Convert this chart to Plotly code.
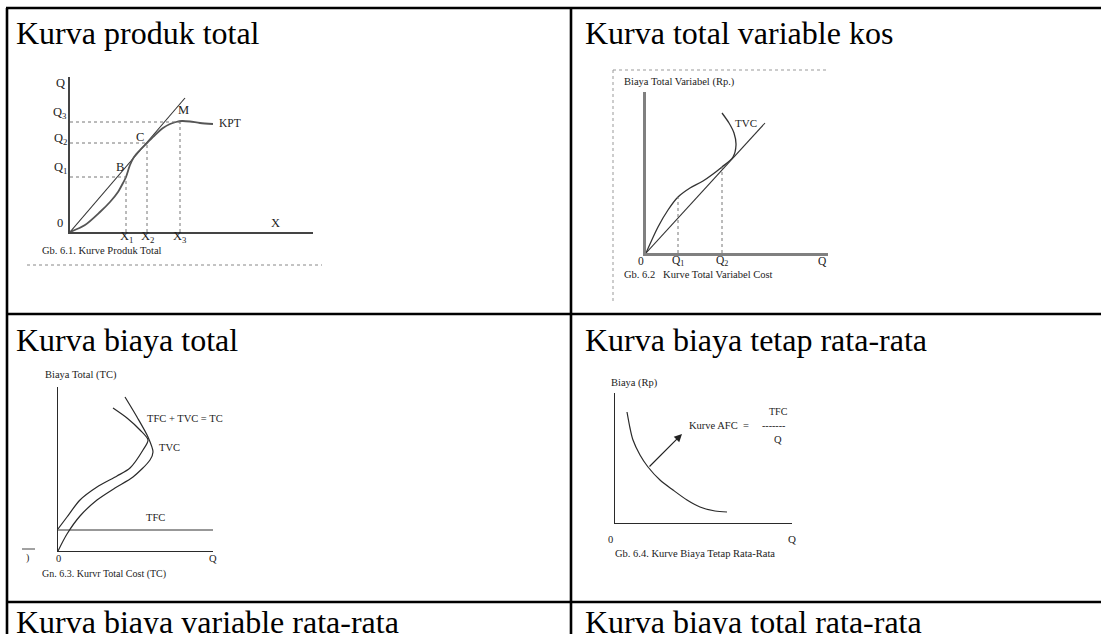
import plotly.graph_objects as go

W, H = 1101, 634
SERIF = "Liberation Serif"
INK = "#222222"

# ---------------- data ----------------
# Panel 1: total product curve (KPT) and the ray from the origin
kpt_x = [0, 15, 30, 40, 48, 53, 56, 60, 64, 70, 77, 85, 93, 100, 106, 112, 120, 130, 143]
kpt_y = [0, 7, 20, 30, 40, 49, 55, 67, 75, 82, 89, 97, 104, 108, 110, 111, 110.5, 109, 108]
ray1_x = [0, 115]
ray1_y = [0, 134]
p1_x_marks = [56, 77, 110]          # X1, X2, X3
p1_q_marks = [55, 89, 110]          # Q1, Q2, Q3
p1_x_labels = ["X<sub>1</sub>", "X<sub>2</sub>", "X<sub>3</sub>"]
p1_q_labels = ["Q<sub>1</sub>", "Q<sub>2</sub>", "Q<sub>3</sub>"]

# Panel 2: total variable cost curve (TVC) and the ray from the origin
tvc2_x = [0, 12, 22, 32, 44, 57, 76, 87, 90, 88, 83, 76]
tvc2_y = [0, 26, 43, 56, 65, 72, 86, 96, 108, 120, 130, 140]
ray2_x = [0, 119]
ray2_y = [0, 130]
p2_q_marks = [32, 76]               # Q1, Q2
p2_q_heights = [56, 86]
p2_q_labels = ["Q<sub>1</sub>", "Q<sub>2</sub>"]

# Panel 3: total cost = fixed + variable
tc3_x = [0, 9, 22, 39, 59, 72, 85, 90, 82, 69, 55]
tc3_y = [22, 34, 51, 64, 75, 83, 101, 111, 121, 133, 143]
tvc3_x = [0, 9, 22, 39, 57, 75, 92, 95, 90, 79, 67]
tvc3_y = [0, 17, 35, 51, 63, 74, 91, 99, 114, 134, 154]
tfc3_x = [0, 155]
tfc3_y = [21, 21]

# Panel 4: average fixed cost curve
afc_x = [12, 15, 18, 25, 33, 45, 58, 72, 85, 100, 112]
afc_y = [111, 95, 83, 68, 56, 43, 33, 23, 16, 12, 11]
afc_arrow_tail = (33, 55)
afc_arrow_head = (67, 89)

# table cell titles
titles = [
    "Kurva produk total", "Kurva total variable kos",
    "Kurva biaya total", "Kurva biaya tetap rata-rata",
    "Kurva biaya variable rata-rata", "Kurva biaya total rata-rata",
]


def px(x):
    return x / W


def py(y):
    return 1 - y / H


fig = go.Figure()

# axis boxes (left, right, bottom, top in page pixels) and data ranges
panels = {
    1: dict(box=(70, 313, 232, 77), color="#444444", lw=1.6),
    2: dict(box=(646, 828, 253, 92), color="#808080", lw=2.6),
    3: dict(box=(58, 213, 551, 387), color="#2a2a2a", lw=1.1),
    4: dict(box=(615, 792, 523, 393), color="#2a2a2a", lw=1.3),
}

layout_axes = {}
for i, p in panels.items():
    l, r, b, t = p["box"]
    common = dict(showgrid=False, zeroline=False, showticklabels=False, ticks="",
                  showline=True, linecolor=p["color"], linewidth=p["lw"], fixedrange=True)
    sx = "" if i == 1 else str(i)
    layout_axes["xaxis" + sx] = dict(domain=[px(l), px(r)], range=[0, r - l],
                                     anchor="y" + sx, **common)
    layout_axes["yaxis" + sx] = dict(domain=[py(b), py(t)], range=[0, b - t],
                                     anchor="x" + sx, **common)


def ax(i):
    return ("x", "y") if i == 1 else ("x%d" % i, "y%d" % i)


def line(i, xs, ys, color=INK, width=1.3, dash="solid", shape="spline"):
    xa, ya = ax(i)
    fig.add_trace(go.Scatter(x=xs, y=ys, xaxis=xa, yaxis=ya, mode="lines",
                             line=dict(color=color, width=width, dash=dash, shape=shape,
                                       smoothing=0.8),
                             hoverinfo="skip", showlegend=False))


annotations = []


def label(i, x, y, text, size=11, dx=0, dy=0, xanchor="center", color=INK):
    xa, ya = ax(i)
    annotations.append(dict(x=x, y=y, xref=xa, yref=ya, text=text, showarrow=False,
                            xshift=dx, yshift=dy, xanchor=xanchor, yanchor="middle",
                            font=dict(family=SERIF, size=size, color=color)))


def page_text(x, y, text, size=11, xanchor="left", color=INK):
    annotations.append(dict(x=px(x), y=py(y), xref="paper", yref="paper", text=text,
                            showarrow=False, xanchor=xanchor, yanchor="middle",
                            font=dict(family=SERIF, size=size, color=color)))


# ---- panel 1
line(1, ray1_x, ray1_y, color="#333333", width=1.1, shape="linear")
line(1, kpt_x, kpt_y, color="#555555", width=1.8)
for xm, qm in zip(p1_x_marks, p1_q_marks):
    line(1, [0, xm], [qm, qm], color="#777777", width=1, dash="dot", shape="linear")
    line(1, [xm, xm], [0, qm], color="#777777", width=1, dash="dot", shape="linear")
label(1, 0, 149, "Q", size=12.5, dx=-10)
for qm, txt, sh in zip(p1_q_marks, p1_q_labels, [9, 4, 9]):
    label(1, 0, qm, txt, size=12.5, dx=-10, dy=sh)
label(1, 0, 0, "0", size=12.5, dx=-10, dy=9)
label(1, 205, 0, "X", size=12.5, dy=9)
for xm, txt in zip(p1_x_marks, p1_x_labels):
    label(1, xm, 0, txt, size=12.5, dy=-5)
label(1, 50, 65, "B", size=12.5)
label(1, 70, 95, "C", size=12.5)
label(1, 113, 122, "M", size=12.5)
label(1, 160, 109, "KPT", size=11.5)
page_text(40, 250, "Gb. 6.1. Kurve Produk Total", size=10.5)

# ---- panel 2
line(2, ray2_x, ray2_y, color="#333333", width=1.1, shape="linear")
line(2, tvc2_x, tvc2_y, color="#333333", width=1.3)
for qm, qh in zip(p2_q_marks, p2_q_heights):
    line(2, [qm, qm], [0, qh], color="#777777", width=1, dash="dot", shape="linear")
label(2, 0, 0, "0", size=11.5, dx=-5, dy=-8)
for qm, txt in zip(p2_q_marks, p2_q_labels):
    label(2, qm, 0, txt, size=11.5, dy=-8)
label(2, 176, 0, "Q", size=11.5, dy=-8)
label(2, 100, 130, "TVC", size=11)
page_text(622, 82, "Biaya Total Variabel (Rp.)", size=10.5)
page_text(622, 274, "Gb. 6.2&#160;&#160; Kurve Total Variabel Cost", size=10.5)

# ---- panel 3
line(3, tfc3_x, tfc3_y, color="#333333", width=1.1, shape="linear")
line(3, tc3_x, tc3_y, color="#2a2a2a", width=1.2)
line(3, tvc3_x, tvc3_y, color="#2a2a2a", width=1.2)
label(3, 87, 133, "TFC + TVC = TC", size=10.5, xanchor="left")
label(3, 99, 104, "TVC", size=10.5, xanchor="left")
label(3, 97, 34, "TFC", size=10.5)
label(3, 0, 0, "0", size=10.5, dy=-7)
label(3, 155, 0, "Q", size=10.5, dy=-7)
page_text(81, 375, "Biaya Total (TC)", size=10.5, xanchor="center")
page_text(40, 574, "Gn. 6.3. Kurvr Total Cost (TC)", size=10)
page_text(24, 558, ")", size=10)

# ---- panel 4
line(4, afc_x, afc_y, color="#2a2a2a", width=1.2)
label(4, 72, 98, "Kurve AFC&#160; =", size=10.5, xanchor="left")
label(4, 163, 112, "TFC", size=10)
label(4, 158, 98, "-------", size=10)
label(4, 163, 84, "Q", size=10.5)
label(4, 0, 0, "0", size=10.5, dx=-5, dy=-16)
label(4, 177, 0, "Q", size=11, dy=-16)
page_text(634, 383, "Biaya (Rp)", size=10.5, xanchor="center")
page_text(613, 553, "Gb. 6.4. Kurve Biaya Tetap Rata-Rata", size=10.5)
annotations.append(dict(x=afc_arrow_head[0], y=afc_arrow_head[1], ax=afc_arrow_tail[0],
                        ay=afc_arrow_tail[1], xref="x4", yref="y4", axref="x4", ayref="y4",
                        showarrow=True, arrowhead=2, arrowsize=1.3, arrowwidth=1.2,
                        arrowcolor="#222222", text=""))

# ---- table titles
title_pos = [(14, 33), (583, 33), (14, 340), (583, 340), (14, 622), (583, 622)]
for (tx, ty), txt in zip(title_pos, titles):
    page_text(tx, ty, txt, size=32, color="#000000")

# ---- table rules and decorations
shapes = []


def hline(x0, x1, y, w=2.6, color="#000000", dash="solid"):
    shapes.append(dict(type="line", xref="paper", yref="paper", x0=px(x0), x1=px(x1),
                       y0=py(y), y1=py(y), line=dict(color=color, width=w, dash=dash)))


def vline(x, y0, y1, w=2.6, color="#000000", dash="solid"):
    shapes.append(dict(type="line", xref="paper", yref="paper", x0=px(x), x1=px(x),
                       y0=py(y0), y1=py(y1), line=dict(color=color, width=w, dash=dash)))


hline(6, W, 8)
hline(6, W, 314)
hline(6, W, 602)
vline(7, 8, H)
vline(571, 8, H)
# dotted frames inside the first row
hline(27, 322, 265, w=1, color="#888888", dash="dot")
hline(613, 828, 70, w=1, color="#999999", dash="dot")
vline(613, 70, 303, w=1, color="#999999", dash="dot")
# small stray mark at the left of the third panel
hline(22, 35, 549, w=1, color="#444444")

fig.update_layout(width=W, height=H, margin=dict(l=0, r=0, t=0, b=0),
                  paper_bgcolor="white", plot_bgcolor="rgba(0,0,0,0)",
                  showlegend=False, annotations=annotations, shapes=shapes,
                  **layout_axes)

fig.write_html("out.html")
